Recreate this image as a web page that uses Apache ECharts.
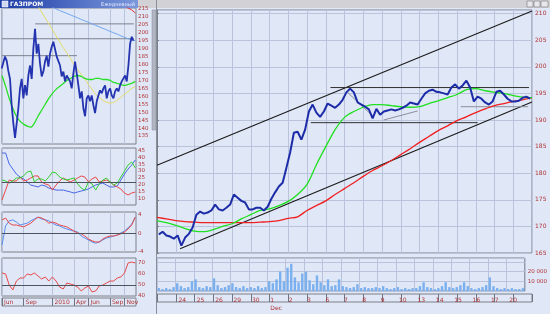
<!DOCTYPE html>
<html><head><meta charset="utf-8">
<script src="https://cdn.jsdelivr.net/npm/echarts@6/dist/echarts.min.js"></script>
<style>html,body{margin:0;padding:0;background:#dfe6f6;}#c{width:550px;height:314px;}</style>
</head><body><div id="c"></div><script>
// ---------- main (intraday) chart data ----------
const dayLabels = ['23','24','25','26','29','30','1','2','3','6','7','8','9','10','13','14','15','16','17','20'];
const barsPerDay = 5;
const price = [168.5,169.0,168.3,168.1,167.7,168.3,166.4,167.9,168.6,169.8,
  172.2,172.8,172.4,172.6,173.0,174.1,173.2,173.0,173.5,174.1,
  176.0,175.4,174.8,174.5,173.2,173.2,173.5,173.5,173.0,173.7,
  175.2,176.4,177.5,178.2,181.0,183.9,187.6,187.8,186.3,188.2,
  191.6,192.9,191.4,190.6,191.6,193.1,192.7,192.3,192.9,193.8,
  195.2,195.9,195.2,193.3,192.9,192.5,192.0,190.3,192.1,191.0,
  191.6,191.8,192.0,191.8,192.0,192.3,192.7,193.3,193.1,192.9,
  194.0,195.0,195.5,195.7,195.3,195.2,195.0,194.8,196.1,196.7,
  195.9,196.5,197.4,196.1,193.5,194.4,194.0,193.3,192.9,193.5,
  195.3,195.5,194.8,194.0,193.5,193.5,193.6,194.2,194.4,194.0];
const volume = [3000,2000,3000,2000,4000,8000,5000,3000,4000,10000,
  12000,4000,3000,5000,4000,13000,6000,3000,4000,6000,
  8000,4000,3000,5000,3000,4000,3000,5000,3000,4000,
  10000,8000,12000,20000,10000,24000,28000,14000,9000,18000,
  20000,11000,7000,16000,9000,6000,12000,5000,6000,12000,
  5000,4000,3000,4000,7000,3000,4000,3000,3000,4000,
  3000,5000,3000,2000,3000,4000,2000,3000,2000,3000,
  3000,5000,9000,4000,3000,2000,3000,5000,9000,4000,
  3000,4000,6000,9000,5000,3000,2000,3000,4000,6000,
  14000,5000,3000,2000,3000,2000,3000,2000,2000,3000];
// moving averages sampled every half day
const maStep = 0.5;
const maFast = [171.1,170.7,170.2,169.6,169.1,169.0,169.4,170.0,170.5,171.4,
  172.2,173.0,173.3,173.9,174.7,176.0,177.9,181.6,185.0,188.2,
  190.5,191.6,192.4,192.9,192.9,192.7,192.5,192.4,192.5,193.1,
  193.6,194.2,194.8,195.7,195.9,195.5,195.2,195.0,194.6,194.3,194.2];
const maSlow = [171.7,171.4,171.1,170.9,170.8,170.7,170.7,170.7,170.7,170.7,
  170.7,170.8,170.9,171.1,171.5,171.8,173.0,173.9,174.8,176.0,
  177.1,178.2,179.4,180.5,181.4,182.4,183.5,184.6,185.8,186.9,
  188.0,188.9,189.9,190.6,191.4,192.1,192.7,193.1,193.5,193.8,194.2];
// drawn lines (day, price)
const upperChannel = [[0,181.5],[20,210.5]];
const lowerChannel = [[1.23,165.8],[20,193.4]];
const rangeTop = [[9.25,196.1],[19.84,196.1]];
const rangeBottom = [[8.2,189.5],[17.1,189.5]];
const grayLevel = [[16.2,192.5],[19.8,192.5]];
const grayFall = [[10.16,195.2],[11.55,190.6]];
const grayRise = [[12.09,190.0],[13.9,191.7]];
const priceTicks = {min:165, max:210.68, step:5};
const volumeTicks = {max:34000, step:10000};

// ---------- mini (daily, ~1.5 years) chart data ----------
const miniMonthLabels = ['Jun','Sep','2010','Apr','Jun','Sep','Nov'];
const miniMonthTicks = [0,3,7,10,12,15,17];
const miniPriceStart = -0.046, miniPriceStep = 0.2315;
const miniPrice = [177.5,177.5,185,182.5,176,171,154.4,143,133.8,143,
  152.5,165,171,158.75,167,160.6,173,179.4,171,190,
  202.5,186.9,193,180.6,172.5,175.6,181.9,185.6,178.75,186.9,
  191.25,194.4,195,185,185.6,179.4,172.5,175.6,169.4,173.1,
  171.25,169.4,165,174.4,181.9,174.4,166.9,158.75,163.1,152.5,
  147.5,158.75,160.6,156.9,160.6,154.4,149.4,156.9,160.6,163.75,
  161.9,165,166.9,158.75,163.1,165,160.6,158.75,163.1,165,
  163.1,166.9,169.4,169.4,173.1,169.4,179.4,193.1,197.5,195];
const oscStep = 0.5;
const miniMaGreen = [173.1,166.25,158.75,152.5,147.5,144.4,142.5,141.25,140.6,143.1,
  147.5,151.25,155,158.75,161.9,164.4,166.25,168.1,170,171.25,
  172.5,173.1,172.5,171.25,170.6,170.6,171.25,171.25,170.6,170.6,
  170,168.75,168.1,167.5,166.9,167.5,168.1,169.4];
const miniMaYellow = [null,null,null,null,null,null,null,null,null,220,
  216.9,213,209.4,205.6,201.9,198.1,194.4,190.6,187.5,183.75,
  180,176.9,173.75,171.25,167.5,164.4,161.25,159.4,157.5,156.25,
  155.6,156.25,157.5,159.4,161.25,163.1,165,166.25];
const miniMaBlue = [null,null,null,null,null,null,null,null,null,null,
  null,null,null,217.5,216.25,215,214,213.1,212.2,211.25,
  210.3,209.4,208.4,207.5,206.6,205.6,204.7,203.75,202.8,201.9,
  200.9,200,199.1,198.1,197.2,196.25,195.6,195];
const miniMaRed = [null,null,null,null,null,null,null,null,null,null,
  null,null,null,null,null,null,null,null,null,null,
  null,null,null,null,null,null,null,null,null,null,
  null,null,null,null,216.9,215.6,214.4,212.5];
const miniLevels = [[[4.6,205.6],[18.3,205.6]],[[0,196.25],[18.3,196.25]],[[0,185.6],[10.4,185.6]]];
const adx = [43.3,43.3,35.2,31.5,27.8,25.6,24.2,22,19.7,19,18.3,19.7,19,17.5,16.8,16,16,16,15.3,14.6,
  13.8,14.6,15.3,16,16.8,18.3,19.7,20.5,21.2,19.7,18.3,18.3,19,23.4,27.8,31.5,34.5,38.2];
const diMinus = [8.7,16,23.4,22.7,22.7,25.6,22.7,23.4,24.9,26.4,26.4,22,20.5,19.7,16,19.7,22.7,24.9,23.4,22,
  23.4,24.9,26.4,25.6,22,24.2,25.6,22,22.7,23.4,22,19.7,18.3,16.8,13.8,12.4,13.8,14.6];
const diPlus = [23.4,22.7,21.2,22.7,24.9,24.9,26.4,29.3,30,22,24.2,24.2,22.7,25.6,29.3,28.6,25.6,24.2,23.4,24.2,
  24.9,20.5,17.5,16,22,20.5,16,20.5,23.4,24.9,22,19.7,21.2,25.6,30,34.5,36.7,32.3];
const macdLine = [-2.5,1.6,2.7,2.9,2.45,1.8,2.0,2.2,2.7,3.1,3.5,3.1,2.9,2.7,2.2,1.8,1.6,1.2,0.95,0.7,
  0.5,0.3,-0.56,-1.0,-1.4,-1.85,-2.1,-1.85,-1.4,-1.0,-0.8,-0.56,-0.35,0.1,0.5,1.2,2.0,3.5];
const macdSignal = [2.9,3.3,2.2,1.8,1.8,1.6,1.4,1.8,2.2,2.9,3.5,3.3,2.9,2.2,2.45,2.2,1.8,1.6,1.4,0.95,
  0.5,0.1,-0.1,-0.56,-1.2,-1.6,-1.85,-1.85,-1.2,-0.8,-0.56,-0.56,-0.35,-0.1,0.3,0.95,1.8,3.5];
const rsi = [60.6,59.7,49.8,45.4,53.4,56.1,56.1,59.7,58.8,60.6,57.9,55.2,57,53.4,57,53.4,48,46.3,51.6,50.7,
  49.8,48,44.5,47.2,48.9,43.6,44.5,48.9,49.8,51.6,53.4,53.4,56.1,57,60.6,69.5,70.4,69.5];
const adxMid = 22, macdMid = 0, rsiMid = 50;

// ---------- build ----------
const px = price.map((v,i)=>[(i+0.5)/barsPerDay, v]);
const vx = volume.map((v,i)=>[(i+0.5)/barsPerDay, v]);
const ma = arr => arr.map((v,i)=>[i*maStep, v]);
const mp = miniPrice.map((v,i)=>[miniPriceStart+i*miniPriceStep, v]);
const os = arr => arr.map((v,i)=>[i*oscStep, v]);
const lastPrice = price[price.length-1];
const lastVol = volume[volume.length-1];
const lastMini = miniPrice[miniPrice.length-1];
const fmtK = v => String(v).replace(/\B(?=(\d{3})+(?!\d))/g,' ');

const RED = '#b03434', GRIDC = '#b9c4dc', BORDER = '#7c8088', BG = '#e0e7f7';
const FONT = 'DejaVu Sans';
const lbl = (extra) => Object.assign({color:RED, fontSize:6, fontFamily:FONT}, extra||{});
const grid = (l,t,w,h) => ({left:l, top:t, width:w, height:h, show:true, backgroundColor:BG, borderColor:BORDER, borderWidth:1, containLabel:false});
const hidden = {show:false};
const noAx = {axisLine:hidden, axisTick:hidden};
const line = (xi, yi, data, color, w, extra) => Object.assign({type:'line', xAxisIndex:xi, yAxisIndex:yi, data, showSymbol:false, symbol:'none', silent:true, animation:false,
  lineStyle:{color, width:w}}, extra||{});
const mid = v => ({symbol:'none', silent:true, animation:false, label:{show:false}, lineStyle:{color:'#4c5460', type:'solid', width:1}, data:[{yAxis:v}]});
const boxLabel = (txt) => ({show:true, position:'end', distance:1, formatter:txt, color:'#1c2c9c', fontSize:5.5, fontFamily:FONT,
  backgroundColor:'#d6e0fb', borderColor:'#3a5bd0', borderWidth:1, padding:[1,1]});

const miniX = (gi, extra) => Object.assign({type:'value', gridIndex:gi, min:0, max:18.6, axisLabel:hidden, axisLine:hidden,
  axisTick:{show:false, customValues:miniMonthTicks}, splitLine:{show:true, lineStyle:{color:GRIDC}}}, extra||{});

const option = {
  backgroundColor: BG,
  animation:false,
  grid:[
    grid(157,10,375,243),   // 0 main price
    grid(157,258,375,33),   // 1 volume
    grid(157,294,375,8),    // 2 date row
    grid(2,8,134,136),      // 3 mini price
    grid(2,148,134,57),     // 4 ADX
    grid(2,212,134,40),     // 5 MACD
    grid(2,258,134,38),     // 6 RSI
    grid(2,298,134,8)       // 7 mini date row
  ],
  xAxis:[
    {type:'value', gridIndex:0, min:0, max:20, interval:1, ...noAx, axisLabel:hidden, splitLine:{show:true, lineStyle:{color:GRIDC}}},
    {type:'value', gridIndex:1, min:0, max:20, interval:1, ...noAx, splitLine:{show:true, lineStyle:{color:GRIDC}},
      axisLabel:lbl({margin:5, align:'left', padding:[0,0,0,3], lineHeight:8, verticalAlign:'top',
        formatter:v=> v===6 ? '1\nDec' : (v>0 && v<dayLabels.length ? dayLabels[v] : '')})},
    {type:'value', gridIndex:2, min:0, max:20, interval:1, axisLabel:hidden, axisLine:hidden, splitLine:hidden,
      axisTick:{show:true, inside:true, length:8, lineStyle:{color:'#707480'}}},
    miniX(3), miniX(4), miniX(5), miniX(6),
    {type:'value', gridIndex:7, min:0, max:18.6, axisLine:hidden, splitLine:hidden,
      axisTick:{show:true, inside:true, length:8, customValues:miniMonthTicks, lineStyle:{color:'#707480'}},
      axisLabel:lbl({inside:true, margin:1, align:'left', padding:[0,0,0,2], customValues:miniMonthTicks,
        formatter:v=> miniMonthLabels[miniMonthTicks.indexOf(v)] || ''})}
  ],
  yAxis:[
    {type:'value', gridIndex:0, position:'right', min:priceTicks.min, max:priceTicks.max, interval:priceTicks.step,
      axisLine:{show:true, lineStyle:{color:BORDER}}, axisTick:{show:true, length:2, lineStyle:{color:BORDER}},
      axisLabel:lbl({margin:3, showMaxLabel:false}), splitLine:{show:true, lineStyle:{color:GRIDC}}},
    {type:'value', gridIndex:1, position:'right', min:0, max:volumeTicks.max, interval:volumeTicks.step,
      axisLine:hidden, axisTick:hidden, splitLine:{show:true, lineStyle:{color:GRIDC}},
      axisLabel:lbl({margin:3, fontSize:5.5, formatter:v=> (v>0 && v<30000) ? fmtK(v) : ''})},
    {type:'value', gridIndex:2, show:false},
    {type:'value', gridIndex:3, position:'right', min:130, max:215.6, interval:5, ...noAx, splitLine:hidden,
      axisLabel:lbl({margin:2, fontSize:5.5, showMinLabel:false, showMaxLabel:false})},
    {type:'value', gridIndex:4, position:'right', min:5, max:47, interval:5, ...noAx, splitLine:hidden,
      axisLabel:lbl({margin:2, fontSize:5.5, showMinLabel:false, showMaxLabel:false})},
    {type:'value', gridIndex:5, position:'right', min:-4, max:4.6, interval:4, ...noAx, splitLine:hidden,
      axisLabel:lbl({margin:2, fontSize:5.5, showMaxLabel:false})},
    {type:'value', gridIndex:6, position:'right', min:40, max:74, interval:10, ...noAx, splitLine:hidden,
      axisLabel:lbl({margin:2, fontSize:5.5, showMaxLabel:false})},
    {type:'value', gridIndex:7, show:false}
  ],
  series:[
    line(0,0,upperChannel,'#1a1a1a',1.1),
    line(0,0,lowerChannel,'#1a1a1a',1.1),
    line(0,0,rangeTop,'#303030',1),
    line(0,0,rangeBottom,'#303030',1),
    line(0,0,grayLevel,'#8a8e98',1),
    line(0,0,grayFall,'#8a8e98',1),
    line(0,0,grayRise,'#8a8e98',1),
    line(0,0,ma(maSlow),'#f02020',1.3,{smooth:0.3}),
    line(0,0,ma(maFast),'#1ee01e',1.3,{smooth:0.3}),
    line(0,0,px,'#1c2ca8',2,{markLine:{symbol:'none', silent:true, animation:false, lineStyle:{opacity:0},
      label:boxLabel(lastPrice.toFixed(2)), data:[{yAxis:lastPrice}]}}),
    {type:'bar', xAxisIndex:1, yAxisIndex:1, data:vx, barWidth:2.4, silent:true, animation:false,
      itemStyle:{color:'#7ab0ee'},
      markLine:{symbol:'none', silent:true, animation:false, lineStyle:{opacity:0},
        label:boxLabel(fmtK(lastVol)), data:[{yAxis:lastVol}]}},
    // mini chart
    line(3,3,miniLevels[0],'#7c828c',1),
    line(3,3,miniLevels[1],'#7c828c',1),
    line(3,3,miniLevels[2],'#7c828c',1),
    line(3,3,os(miniMaBlue),'#72a6ee',1),
    line(3,3,os(miniMaYellow),'#e6dc6a',1),
    line(3,3,os(miniMaRed),'#e83030',1),
    line(3,3,os(miniMaGreen),'#28e028',1.3,{smooth:0.3}),
    line(3,3,mp,'#2434b0',1.8,{markLine:{symbol:'none', silent:true, animation:false, lineStyle:{opacity:0},
      label:boxLabel(lastMini.toFixed(2)), data:[{yAxis:lastMini}]}}),
    line(4,4,os(adx),'#4a66e6',1,{markLine:mid(adxMid)}),
    line(4,4,os(diMinus),'#e84848',1),
    line(4,4,os(diPlus),'#30d030',1),
    line(5,5,os(macdLine),'#5a8ef0',1,{markLine:mid(macdMid)}),
    line(5,5,os(macdSignal),'#e84848',1),
    line(6,6,os(rsi),'#e84848',1,{markLine:mid(rsiMid)})
  ],
  graphic:[
    {type:'rect', shape:{x:0,y:0,width:138,height:8}, style:{fill:new echarts.graphic.LinearGradient(0,0,1,0,[{offset:0,color:'#1c3ca6'},{offset:1,color:'#7c98dc'}])}},
    {type:'rect', shape:{x:2,y:1,width:6,height:6}, style:{fill:'#cfd8f2', stroke:'#ffffff', lineWidth:0.5}},
    {type:'text', x:10, y:4.5, style:{text:'ГАЗПРОМ', fill:'#ffffff', font:'bold 6px DejaVu Sans', verticalAlign:'middle'}},
    {type:'text', x:135, y:4.5, style:{text:'Ежедневный', fill:'#e6ecff', font:'5px DejaVu Sans', align:'right', verticalAlign:'middle'}},
    {type:'rect', shape:{x:157,y:0,width:393,height:8}, style:{fill:'#d2d2d6'}},
    {type:'rect', shape:{x:527,y:1,width:6,height:6}, style:{fill:'#e8e8ec', stroke:'#606060', lineWidth:0.5}},
    {type:'rect', shape:{x:534,y:1,width:6,height:6}, style:{fill:'#e8e8ec', stroke:'#606060', lineWidth:0.5}},
    {type:'rect', shape:{x:541,y:1,width:7,height:6}, style:{fill:'#e8e8ec', stroke:'#606060', lineWidth:0.5}},
    {type:'rect', shape:{x:138,y:0,width:19,height:8}, style:{fill:'#d2d2d6'}},
    {type:'rect', shape:{x:152,y:10,width:4,height:120}, style:{fill:'#b2b6c2', stroke:'#8a8e98', lineWidth:0.5}},
    {type:'line', shape:{x1:156.5,y1:0,x2:156.5,y2:314}, style:{stroke:'#8a8e98', lineWidth:1}}
  ]
};
const chart = echarts.init(document.getElementById('c'), null, {renderer:'canvas'});
chart.setOption(option);
</script></body></html>
